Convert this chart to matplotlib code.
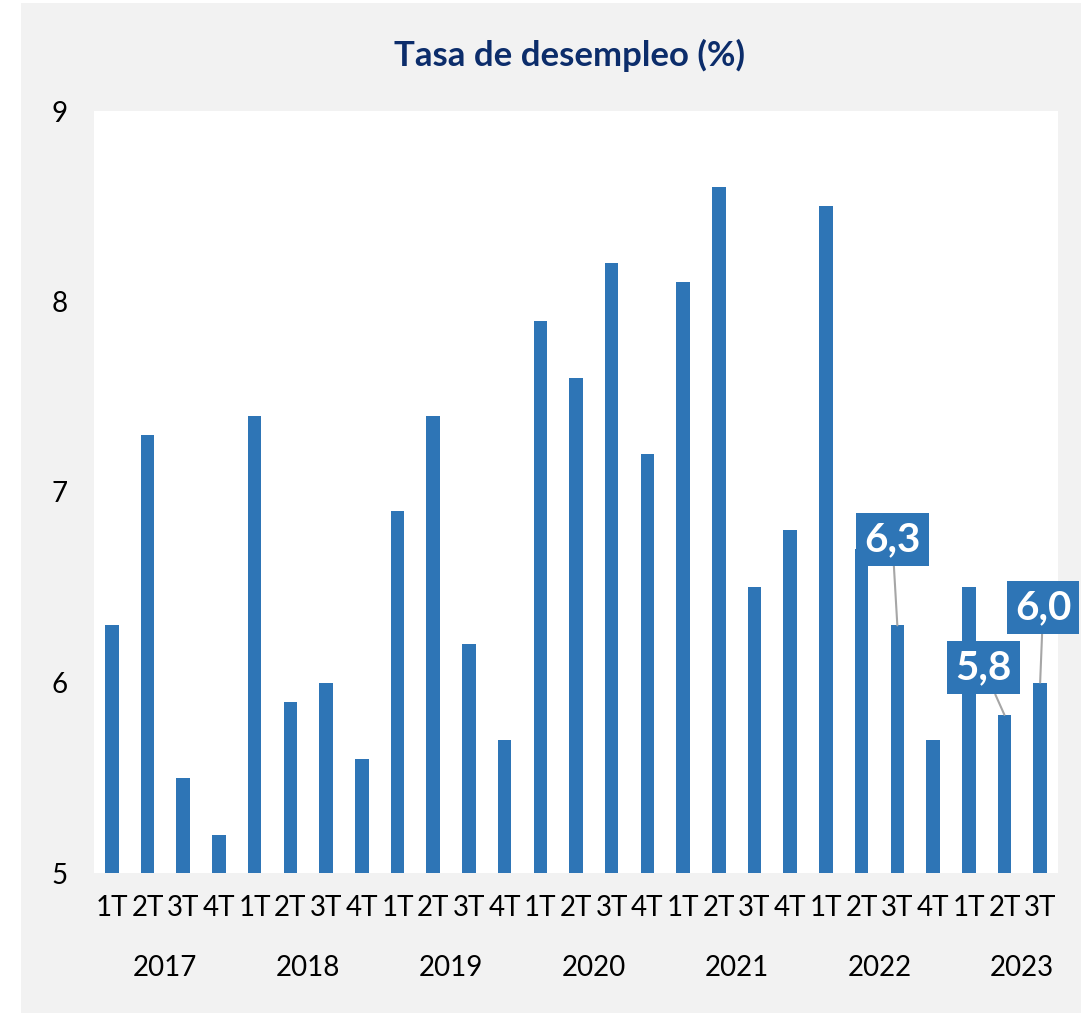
import matplotlib
matplotlib.use("Agg")
import matplotlib.pyplot as plt
from matplotlib.patches import Rectangle
from matplotlib.transforms import blended_transform_factory

years = ["2017", "2018", "2019", "2020", "2021", "2022", "2023"]
quarters = ["1T", "2T", "3T", "4T"]
rates = [6.3, 7.3, 5.5, 5.2,
         7.4, 5.9, 6.0, 5.6,
         6.9, 7.4, 6.2, 5.7,
         7.9, 7.6, 8.2, 7.2,
         8.1, 8.6, 6.5, 6.8,
         8.5, 6.7, 6.3, 5.7,
         6.5, 5.83, 6.0]
# labelled bars: index -> (text, offset in pixels)
labels = {22: ("6,3", (-5, 86)), 25: ("5,8", (-21, 47)), 26: ("6,0", (3, 75))}

BLUE = "#2e75b6"
NAVY = "#0c2d6b"
GREY = "#f2f2f2"
plt.rcParams["font.family"] = ["Lato", "DejaVu Sans"]

fig = plt.figure(figsize=(10.84, 10.14), dpi=100, facecolor="white")
fig.patches.append(Rectangle((21 / 1084, 1 - 1013 / 1014), 1060 / 1084, 1010 / 1014,
                             transform=fig.transFigure, facecolor=GREY,
                             edgecolor="none", zorder=-10))
ax = fig.add_axes([94 / 1084, 1 - 873 / 1014, 964 / 1084, 762 / 1014])
ax.set_facecolor("white")

x = list(range(len(rates)))
ax.bar(x, rates, width=0.38, color=BLUE, zorder=2)
ax.set_ylim(5, 9)
ax.set_xlim(-0.5, len(rates) - 0.5)
ax.set_yticks([5, 6, 7, 8, 9])
ax.tick_params(axis="y", length=0, pad=19, labelsize=20)
ax.tick_params(axis="x", length=0, pad=16, labelsize=20)
ax.set_xticks(x)
ax.set_xticklabels([quarters[i % 4] for i in x])
for s in ax.spines.values():
    s.set_visible(False)

tr = blended_transform_factory(ax.transData, ax.transAxes)
for k, yr in enumerate(years):
    ax.text(4 * k + 1.5, -0.125, yr, transform=tr, ha="center", va="center",
            fontsize=20, color="black")

for i, (txt, off) in labels.items():
    ax.annotate(txt, (i, rates[i]), xytext=off, textcoords="offset pixels",
                ha="center", va="center", fontsize=29, color="white",
                fontweight="bold",
                bbox=dict(boxstyle="square,pad=0.2", facecolor=BLUE, edgecolor="none"),
                arrowprops=dict(arrowstyle="-", color="#a6a6a6", lw=1.5,
                                shrinkA=0, shrinkB=0),
                zorder=5)

fig.text(570 / 1084, 1 - 55 / 1014, "Tasa de desempleo (%)", ha="center", va="center",
         fontsize=25, color=NAVY, fontweight="bold")

fig.savefig("out.png", dpi=100, facecolor=fig.get_facecolor())
